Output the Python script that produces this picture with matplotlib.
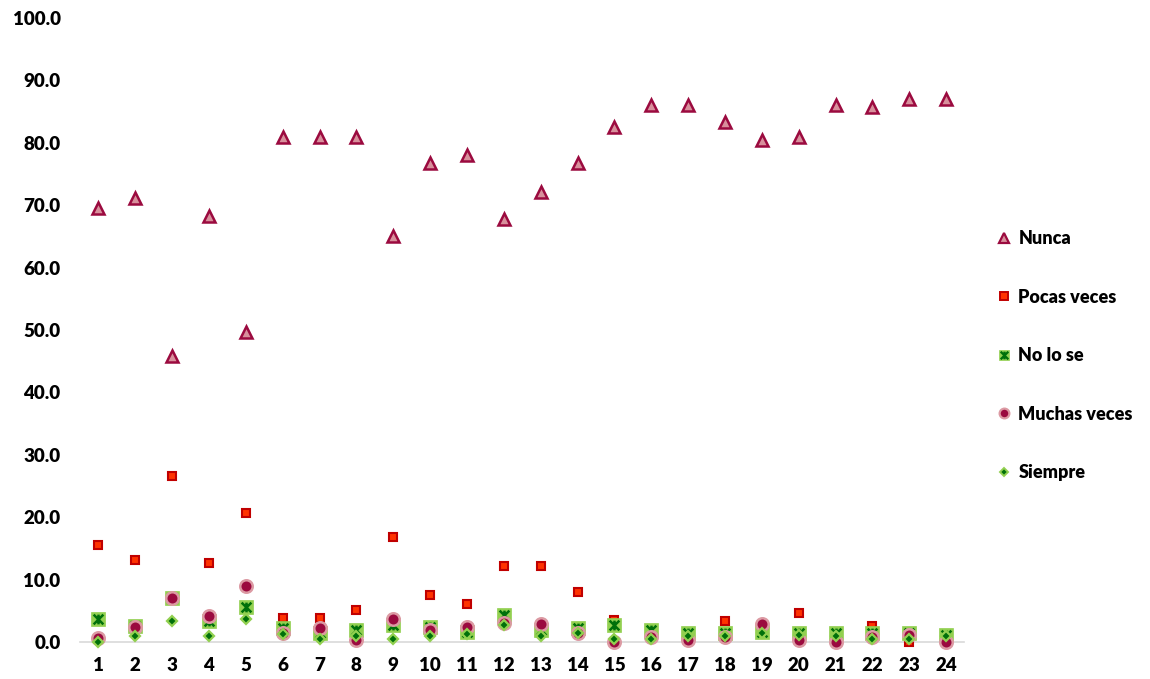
import numpy as np
import matplotlib
matplotlib.use("Agg")
import matplotlib.pyplot as plt
from matplotlib.lines import Line2D
from matplotlib.path import Path
from matplotlib.legend_handler import HandlerTuple

# ── Data ──────────────────────────────────────────────────────────────────────
items = list(range(1, 25))

nunca    = [69.6, 71.2, 45.8, 68.3, 49.7, 80.9, 80.9, 80.9, 65.1, 76.8, 78.0, 67.8,
            72.1, 76.8, 82.5, 86.1, 86.1, 83.3, 80.4, 80.9, 86.1, 85.7, 87.0, 87.0]
pocas    = [15.5, 13.1, 26.6, 12.7, 20.7, 3.8, 3.8, 5.1, 16.8, 7.5, 6.1, 12.2,
            12.2, 8.0, 3.5, 1.0, 0.5, 3.3, 2.5, 4.6, 1.0, 2.5, 0.0, 0.0]
no_lo_se = [3.7, 2.5, 7.0, 3.4, 5.6, 2.2, 1.5, 1.9, 2.7, 2.4, 1.6, 4.3,
            2.0, 2.2, 2.7, 2.0, 1.5, 1.5, 1.6, 1.4, 1.4, 1.4, 1.4, 1.1]
muchas   = [0.6, 2.4, 7.0, 4.2, 8.9, 1.4, 2.3, 0.3, 3.7, 1.9, 2.4, 3.0,
            2.9, 1.5, 0.0, 0.8, 0.3, 0.8, 2.9, 0.3, 0.0, 0.8, 1.1, 0.0]
siempre  = [0.0, 0.9, 3.3, 0.9, 3.7, 1.3, 0.5, 0.9, 0.5, 1.0, 1.3, 2.7,
            0.9, 1.4, 0.5, 0.5, 1.0, 0.9, 1.4, 1.2, 1.0, 0.5, 0.5, 1.0]

# ── Style ─────────────────────────────────────────────────────────────────────
plt.rcParams["font.family"] = ["Lato", "DejaVu Sans"]
plt.rcParams["font.weight"] = "bold"

CRIMSON   = "#9b0a3f"
PINK      = "#d8909c"
RED_EDGE  = "#c00000"
RED_FILL  = "#ff3300"
LT_GREEN  = "#92d050"
DK_GREEN  = "#00700a"
CIRC_EDGE = "#dc9aa3"

# Excel-style "star": an X with a vertical bar
star = Path([(-1, -1), (1, 1), (-1, 1), (1, -1), (0, -1), (0, 1)],
            [Path.MOVETO, Path.LINETO, Path.MOVETO, Path.LINETO, Path.MOVETO, Path.LINETO])

fig = plt.figure(figsize=(11.5, 6.79), dpi=100)
ax = fig.add_axes([80 / 1150, 37 / 679, 884.5 / 1150, 624 / 679])

kw = dict(linestyle="none", clip_on=False)
ax.plot(items, nunca, marker="^", ms=9, mfc=PINK, mec=CRIMSON, mew=1.8, zorder=3, **kw)
ax.plot(items, pocas, marker="s", ms=6.2, mfc=RED_FILL, mec=RED_EDGE, mew=1.5, zorder=4, **kw)
ax.plot(items, no_lo_se, marker="s", ms=9.5, mfc=LT_GREEN, mec=LT_GREEN, mew=0.5, zorder=5, **kw)
ax.plot(items, no_lo_se, marker=star, ms=7, mfc="none", mec=DK_GREEN, mew=1.8, zorder=5, **kw)
ax.plot(items, muchas, marker="o", ms=9, mfc=CRIMSON, mec=CIRC_EDGE, mew=1.8, zorder=6, **kw)
ax.plot(items, siempre, marker="D", ms=5.6, mfc=DK_GREEN, mec=LT_GREEN, mew=1.6, zorder=7, **kw)

ax.set_xlim(0.5, 24.5)
ax.set_ylim(0, 100)
ax.set_xticks(items)
ax.set_yticks(np.arange(0, 101, 10))
ax.set_yticklabels([f"{v:.1f}" for v in np.arange(0, 101, 10)])
ax.tick_params(axis="x", length=0, pad=11, labelsize=13.5)
ax.tick_params(axis="y", length=0, pad=14, labelsize=13.5)
for lbl in ax.get_xticklabels() + ax.get_yticklabels():
    lbl.set_fontweight("heavy")
for s in ["top", "right", "left"]:
    ax.spines[s].set_visible(False)
ax.spines["bottom"].set_color("#d9d9d9")
ax.spines["bottom"].set_linewidth(1.2)
ax.spines["bottom"].set_zorder(1)

# ── Legend ────────────────────────────────────────────────────────────────────
h_nunca = Line2D([], [], linestyle="none", marker="^", ms=7, mfc=PINK, mec=CRIMSON, mew=1.6)
h_pocas = Line2D([], [], linestyle="none", marker="s", ms=5.5, mfc=RED_FILL, mec=RED_EDGE, mew=1.4)
h_nls_bg = Line2D([], [], linestyle="none", marker="s", ms=7.5, mfc=LT_GREEN, mec=LT_GREEN, mew=0.5)
h_nls_x = Line2D([], [], linestyle="none", marker=star, ms=5.5, mfc="none", mec=DK_GREEN, mew=1.6)
h_muchas = Line2D([], [], linestyle="none", marker="o", ms=7, mfc=CRIMSON, mec=CIRC_EDGE, mew=1.6)
h_siempre = Line2D([], [], linestyle="none", marker="D", ms=4.5, mfc=DK_GREEN, mec=LT_GREEN, mew=1.4)

leg = fig.legend([h_nunca, h_pocas, (h_nls_bg, h_nls_x), h_muchas, h_siempre],
                 ["Nunca", "Pocas veces", "No lo se", "Muchas veces", "Siempre"],
                 handler_map={tuple: HandlerTuple(ndivide=1, pad=0)},
                 loc="upper left", bbox_to_anchor=(995 / 1150, 1 - 230 / 679),
                 frameon=False, fontsize=13, handlelength=1.0, handletextpad=0.3,
                 labelspacing=2.3, borderpad=0, borderaxespad=0)
for t in leg.get_texts():
    t.set_fontweight("heavy")

plt.savefig("out.png", dpi=100)
